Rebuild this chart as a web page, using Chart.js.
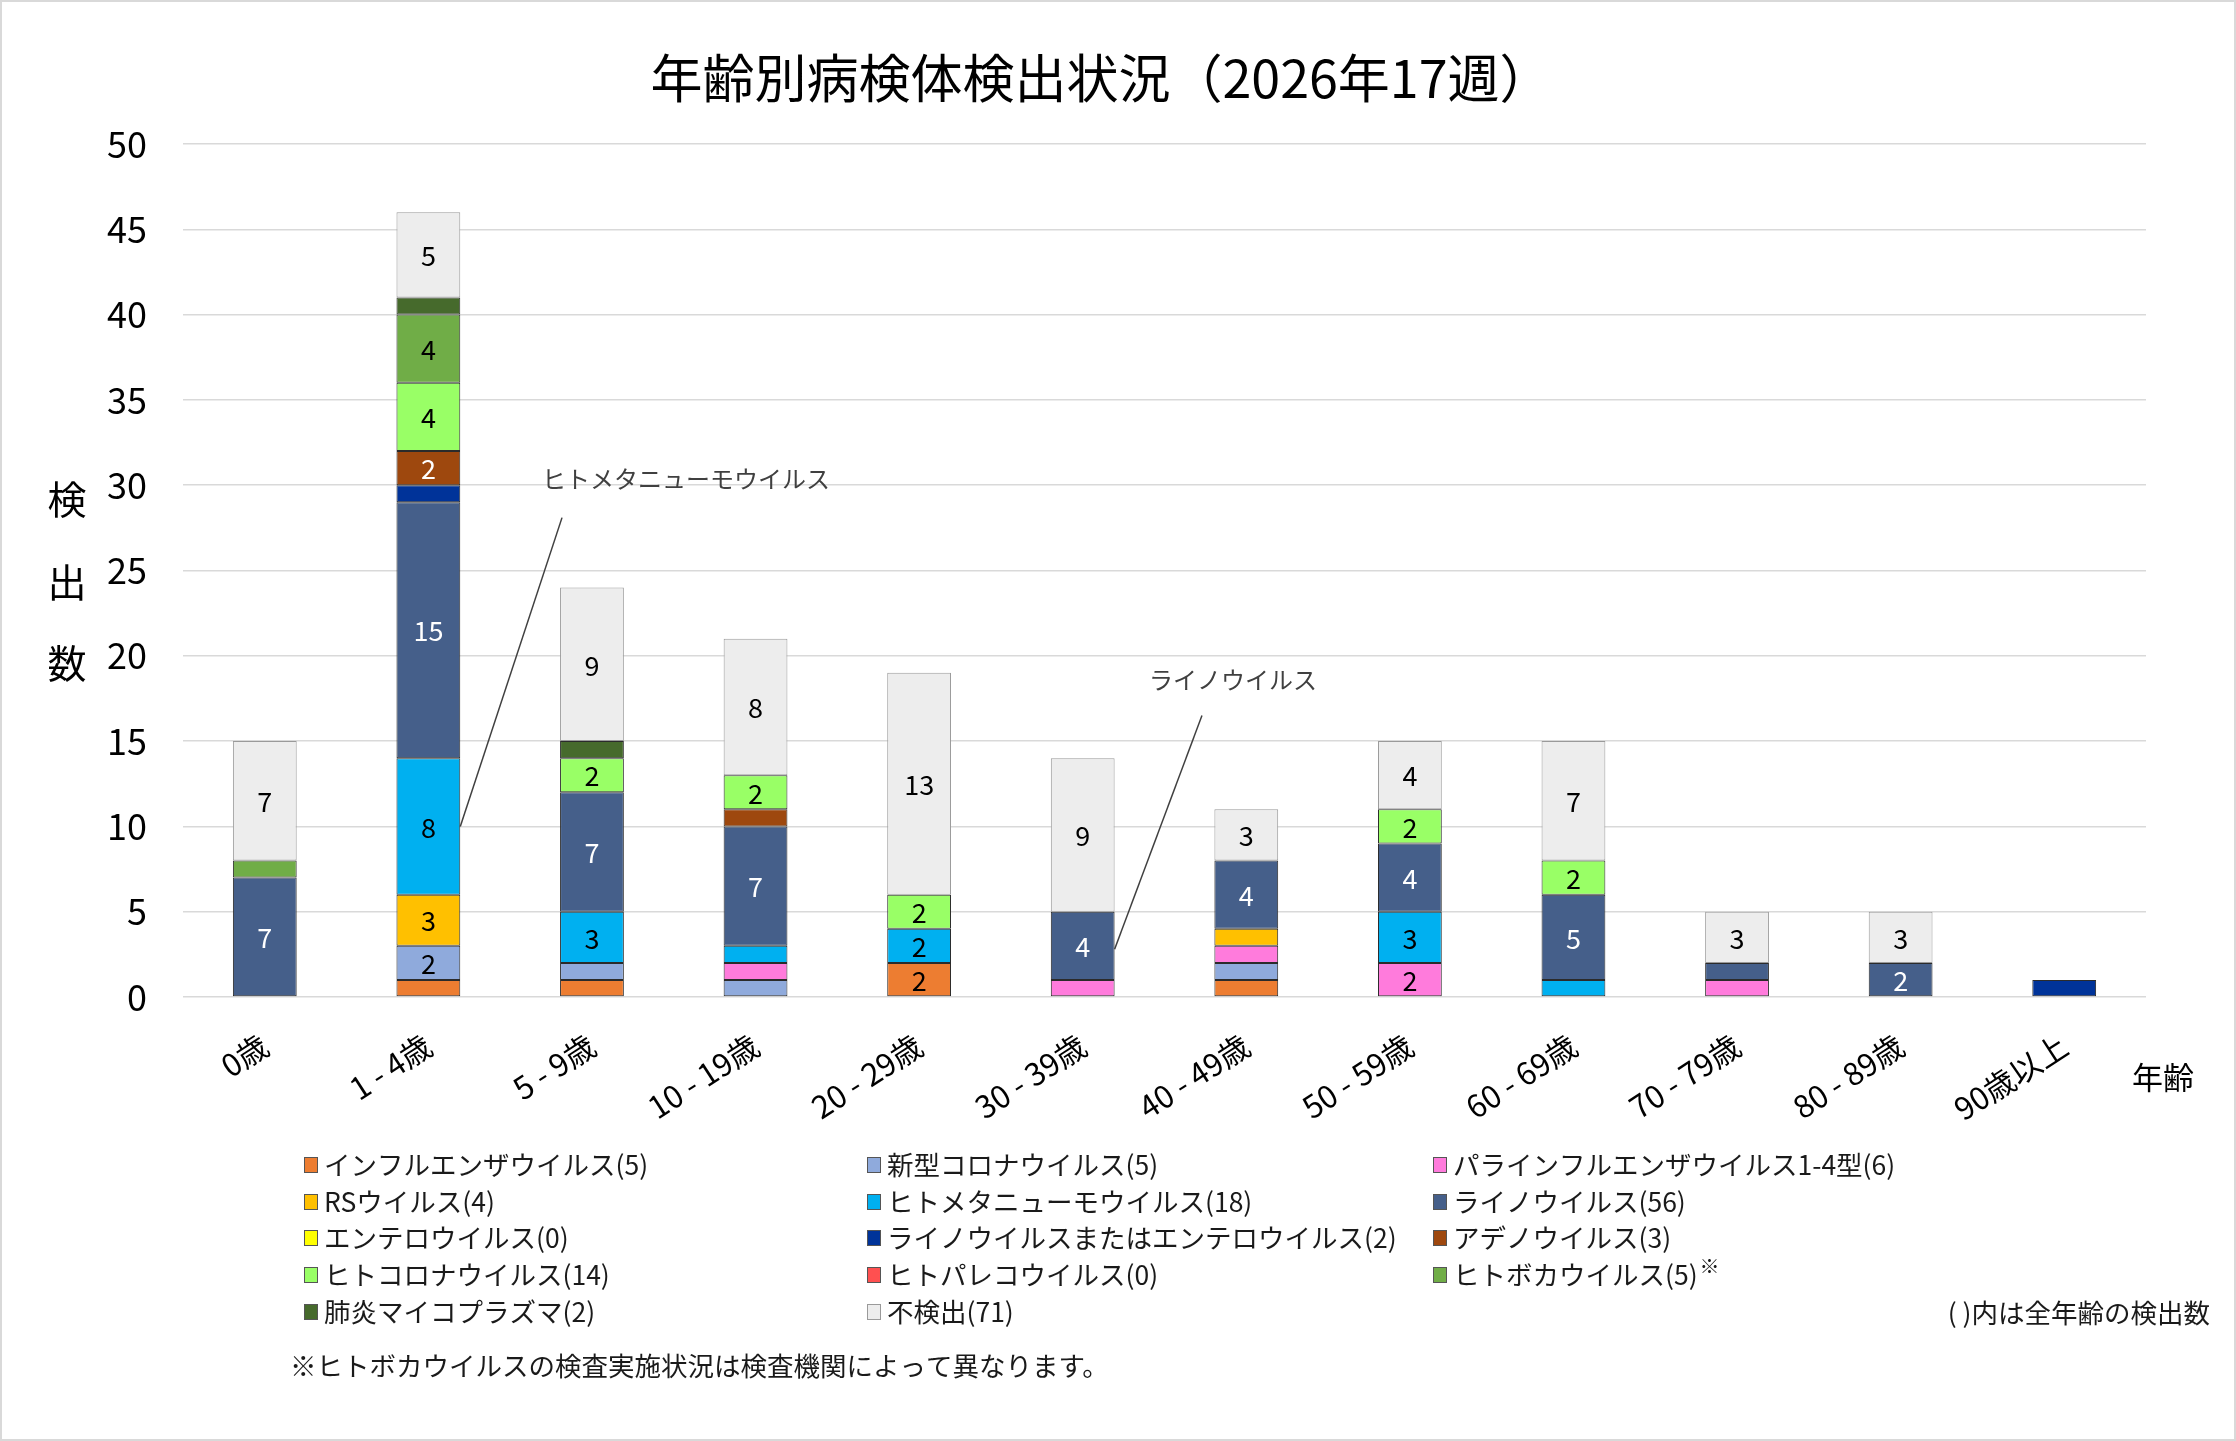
<!DOCTYPE html>
<html>
<head>
<meta charset="utf-8">
<script src="https://cdn.jsdelivr.net/npm/chart.js@4.4.1/dist/chart.umd.min.js"></script>
<style>
  html, body { margin: 0; padding: 0; background: #fff; }
  canvas { display: block; }
</style>
</head>
<body>
<canvas id="chart" width="2236" height="1441"></canvas>
<script>
// age groups (x categories)
const ageGroups = ['0歳', '1 - 4歳', '5 - 9歳', '10 - 19歳', '20 - 29歳', '30 - 39歳',
  '40 - 49歳', '50 - 59歳', '60 - 69歳', '70 - 79歳', '80 - 89歳', '90歳以上'];

// detections per age group, one array per virus (stack order bottom -> top)
const influenza     = [0, 1, 1, 0, 2, 0, 1, 0, 0, 0, 0, 0];
const sarsCov2      = [0, 2, 1, 1, 0, 0, 1, 0, 0, 0, 0, 0];
const parainfluenza = [0, 0, 0, 1, 0, 1, 1, 2, 0, 1, 0, 0];
const rsv           = [0, 3, 0, 0, 0, 0, 1, 0, 0, 0, 0, 0];
const hmpv          = [0, 8, 3, 1, 2, 0, 0, 3, 1, 0, 0, 0];
const rhino         = [7, 15, 7, 7, 0, 4, 4, 4, 5, 1, 2, 0];
const entero        = [0, 0, 0, 0, 0, 0, 0, 0, 0, 0, 0, 0];
const rhinoOrEntero = [0, 1, 0, 0, 0, 0, 0, 0, 0, 0, 0, 1];
const adeno         = [0, 2, 0, 1, 0, 0, 0, 0, 0, 0, 0, 0];
const humanCorona   = [0, 4, 2, 2, 2, 0, 0, 2, 2, 0, 0, 0];
const parecho       = [0, 0, 0, 0, 0, 0, 0, 0, 0, 0, 0, 0];
const boca          = [1, 4, 0, 0, 0, 0, 0, 0, 0, 0, 0, 0];
const mycoplasma    = [0, 1, 1, 0, 0, 0, 0, 0, 0, 0, 0, 0];
const notDetected   = [7, 5, 9, 8, 13, 9, 3, 4, 7, 3, 3, 0];

const yTicks = [0, 5, 10, 15, 20, 25, 30, 35, 40, 45, 50];

const seriesNames = ['インフルエンザウイルス', '新型コロナウイルス', 'パラインフルエンザウイルス1-4型',
  'RSウイルス', 'ヒトメタニューモウイルス', 'ライノウイルス', 'エンテロウイルス',
  'ライノウイルスまたはエンテロウイルス', 'アデノウイルス', 'ヒトコロナウイルス',
  'ヒトパレコウイルス', 'ヒトボカウイルス', '肺炎マイコプラズマ', '不検出'];
const seriesData = [influenza, sarsCov2, parainfluenza, rsv, hmpv, rhino, entero,
  rhinoOrEntero, adeno, humanCorona, parecho, boca, mycoplasma, notDetected];
const seriesColors = ['#ED7D31', '#8FAADC', '#FF7BDC', '#FFC000', '#00B0F0', '#455F8A', '#FFFF00',
  '#003399', '#9E480E', '#99FF66', '#FF5050', '#70AD47', '#466A2C', '#EDEDED'];
const labelColors = ['#000', '#000', '#000', '#000', '#000', '#fff', '#000',
  '#fff', '#fff', '#000', '#000', '#000', '#fff', '#000'];

const FONT = "'Noto Sans CJK JP', 'Noto Sans', sans-serif";
Chart.defaults.font.family = FONT;
Chart.defaults.color = '#000';

const datasets = seriesNames.map((name, i) => ({
  label: name,
  data: seriesData[i].map(v => v || null),
  backgroundColor: seriesColors[i],
  borderColor: i === 13 ? '#9A9A9A' : '#2B2B2B',
  borderWidth: 1,
  borderSkipped: false,
  stack: 'all',
  barPercentage: 0.39,
  categoryPercentage: 1.0
}));

function sum(arr) { return arr.reduce((a, b) => a + b, 0); }

// numbers inside segments (only for values of 2 or more, as in the original)
const segmentLabels = {
  id: 'segmentLabels',
  afterDatasetsDraw(chart) {
    const ctx = chart.ctx;
    ctx.save();
    ctx.font = '27px ' + FONT;
    ctx.textAlign = 'center';
    ctx.textBaseline = 'middle';
    chart.data.datasets.forEach((ds, i) => {
      const meta = chart.getDatasetMeta(i);
      meta.data.forEach((bar, j) => {
        const v = seriesData[i][j];
        if (v < 2) return;
        const p = bar.getProps(['x', 'y', 'base'], true);
        ctx.fillStyle = labelColors[i];
        ctx.fillText(String(v), p.x, (p.y + p.base) / 2 + 1);
      });
    });
    ctx.restore();
  }
};

// callout labels with leader lines
const callouts = [
  { text: 'ヒトメタニューモウイルス', series: 4, index: 1, at: 10, from: [1.817, 28.1], label: [1.694, 30.4] },
  { text: 'ライノウイルス', series: 5, index: 5, at: 2.8, from: [5.729, 16.5], label: [5.405, 18.6] }
];

const extras = {
  id: 'extras',
  beforeDraw(chart) {
    const ctx = chart.ctx;
    ctx.save();
    ctx.fillStyle = '#fff';
    ctx.fillRect(0, 0, chart.width, chart.height);
    ctx.restore();
  },
  afterDraw(chart) {
    const ctx = chart.ctx;
    const xs = chart.scales.x, ys = chart.scales.y;
    ctx.save();

    // frame
    ctx.strokeStyle = '#D9D9D9';
    ctx.lineWidth = 2;
    ctx.strokeRect(1, 1, chart.width - 2, chart.height - 2);

    // title
    ctx.fillStyle = '#000';
    ctx.textAlign = 'center';
    ctx.textBaseline = 'middle';
    ctx.font = '52px ' + FONT;
    ctx.fillText('年齢別病検体検出状況（2026年17週）', 1101, 78);

    // y axis title, stacked vertically
    ctx.font = '39px ' + FONT;
    ['検', '出', '数'].forEach((c, k) => ctx.fillText(c, 67, [499, 582, 663][k]));

    // x axis title
    ctx.font = '31px ' + FONT;
    ctx.fillText('年齢', 2163, 1077);

    // callouts
    ctx.font = '24px ' + FONT;
    ctx.textAlign = 'left';
    callouts.forEach(c => {
      const bar = chart.getDatasetMeta(c.series).data[c.index];
      const ex = bar.x + bar.width / 2;
      const ey = ys.getPixelForValue(c.at);
      ctx.strokeStyle = '#404040';
      ctx.lineWidth = 1.5;
      ctx.beginPath();
      ctx.moveTo(xs.getPixelForValue(c.from[0]), ys.getPixelForValue(c.from[1]));
      ctx.lineTo(ex, ey);
      ctx.stroke();
      ctx.fillStyle = '#404040';
      ctx.fillText(c.text, xs.getPixelForValue(c.label[0]), ys.getPixelForValue(c.label[1]));
    });

    // legend, 3 columns row by row
    const cols = [304, 867, 1433];
    const rows = [1165, 1202, 1238, 1275, 1312];
    ctx.font = '26.5px ' + FONT;
    ctx.textBaseline = 'middle';
    seriesNames.forEach((name, i) => {
      const x = cols[i % 3], y = rows[Math.floor(i / 3)];
      ctx.fillStyle = seriesColors[i];
      ctx.fillRect(x, y - 8, 14, 16);
      ctx.strokeStyle = i === 13 ? '#9A9A9A' : '#555';
      ctx.lineWidth = 1;
      ctx.strokeRect(x + 0.5, y - 7.5, 13, 15);
      ctx.fillStyle = '#1A1A1A';
      const txt = name + '(' + sum(seriesData[i]) + ')';
      ctx.fillText(txt, x + 20, y);
      if (i === 11) {
        const w = ctx.measureText(txt).width;
        ctx.font = '20px ' + FONT;
        ctx.fillText('※', x + 22 + w, y - 9);
        ctx.font = '26.5px ' + FONT;
      }
    });

    ctx.textAlign = 'right';
    ctx.fillText('( )内は全年齢の検出数', 2210, 1313);
    ctx.textAlign = 'left';
    ctx.fillText('※ヒトボカウイルスの検査実施状況は検査機関によって異なります。', 290, 1366);

    ctx.restore();
  }
};

new Chart(document.getElementById('chart'), {
  type: 'bar',
  data: { labels: ageGroups, datasets: datasets },
  options: {
    responsive: false,
    animation: false,
    devicePixelRatio: 1,
    layout: { padding: { left: 0, right: 90, top: 144, bottom: 0 } },
    plugins: {
      legend: { display: false },
      title: { display: false },
      tooltip: { enabled: false }
    },
    scales: {
      x: {
        stacked: true,
        grid: { display: false, drawTicks: false },
        border: { display: false },
        ticks: {
          font: { size: 31 },
          color: '#000',
          minRotation: 33,
          maxRotation: 33,
          autoSkip: false,
          padding: 30
        },
        afterFit(scale) { scale.height = 444; }
      },
      y: {
        stacked: true,
        min: 0,
        max: 50,
        afterBuildTicks(scale) { scale.ticks = yTicks.map(v => ({ value: v })); },
        grid: { color: '#D9D9D9', lineWidth: 1.5, drawTicks: false },
        border: { display: false },
        ticks: { font: { size: 36 }, color: '#000', padding: 36 },
        afterFit(scale) { scale.width = 183; }
      }
    }
  },
  plugins: [segmentLabels, extras]
});
</script>
</body>
</html>
